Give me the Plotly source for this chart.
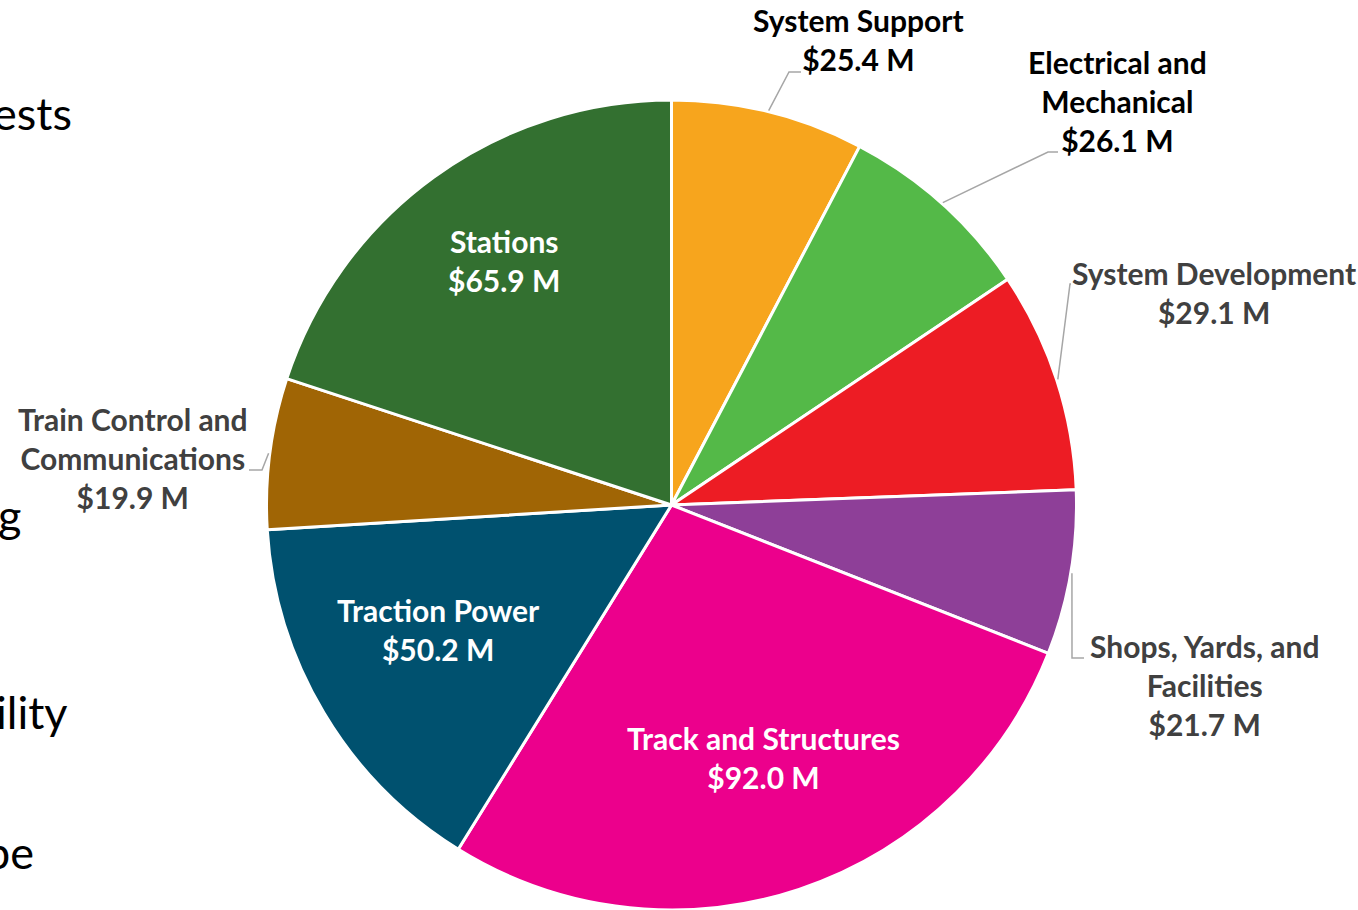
import math
import plotly.graph_objects as go

# ---- data ----
categories = ["System Support", "Electrical and Mechanical", "System Development",
              "Shops, Yards, and Facilities", "Track and Structures", "Traction Power",
              "Train Control and Communications", "Stations"]
values = [25.4, 26.1, 29.1, 21.7, 92.0, 50.2, 19.9, 65.9]
label_text = ["System Support<br>$25.4 M", "Electrical and<br>Mechanical<br>$26.1 M",
              "System Development<br>$29.1 M", "Shops, Yards, and<br>Facilities<br>$21.7 M",
              "Track and Structures<br>$92.0 M", "Traction Power<br>$50.2 M",
              "Train Control and<br>Communications<br>$19.9 M", "Stations<br>$65.9 M"]
colors = ["#F7A51D", "#54B948", "#ED1C24", "#8E3F98", "#EC008C", "#00516F", "#A06505", "#337030"]
slide_fragments = ["ests", "g", "ility", "pe"]

# ---- layout geometry (pixels) ----
W, H = 1358, 910
CX, CY, R = 671.5, 505.0, 405.0
FONT = "Lato"

def px(x, y):
    return x / W, 1 - y / H

fig = go.Figure(go.Pie(
    labels=categories, values=values, sort=False, direction="clockwise", rotation=0,
    marker=dict(colors=colors, line=dict(color="white", width=3)),
    textinfo="none", hoverinfo="label+value", showlegend=False,
    domain=dict(x=[(CX - R) / W, (CX + R) / W], y=[1 - (CY + R) / H, 1 - (CY - R) / H]),
))

total = sum(values)
cum = 0.0
mid_angles = []
for v in values:
    mid_angles.append((cum + v / 2) / total * 2 * math.pi)
    cum += v

def edge_point(i, rf=1.0):
    a = mid_angles[i]
    return CX + rf * R * math.sin(a), CY - rf * R * math.cos(a)

# label placement: (center x px, center y px, text color)
placement = {
    0: (858, 40, "#000000"),
    1: (1117, 101, "#000000"),
    2: (1214, 293, "#404040"),
    3: (1204, 685, "#404040"),
    4: (763, 757, "white"),
    5: (438, 629, "white"),
    6: (133, 458, "#404040"),
    7: (504, 260, "white"),
}
annotations = []
for i, (x, y, c) in placement.items():
    ax, ay = px(x, y)
    annotations.append(dict(x=ax, y=ay, xref="paper", yref="paper", text=label_text[i],
                            showarrow=False, xanchor="center", yanchor="middle", align="center",
                            font=dict(family=FONT, size=30, color=c, weight="bold")))

# leader lines: start on the pie rim at each slice's mid angle, then elbow to label
elbows = {
    0: [(789, 72), (801, 72)],
    1: [(1048, 152), (1058, 152)],
    2: [(1070, 284), (1071, 284)],
    3: [(1072, 658), (1084, 658)],
    6: [(262, 470), (249, 470)],
}
shapes = []
for i, pts in elbows.items():
    sx, sy = edge_point(i, 1.003)
    path_pts = [(sx, sy)] + pts
    d = "M " + " L ".join(f"{px(x, y)[0]:.5f},{px(x, y)[1]:.5f}" for x, y in path_pts)
    shapes.append(dict(type="path", xref="paper", yref="paper", path=d,
                       line=dict(color="#A6A6A6", width=1.5)))

# cropped slide text at left edge (cut off in the reference too)
frag_pos = [(74, 113), (23, 515), (70, 712), (36, 852)]
for t, (x, y) in zip(slide_fragments, frag_pos):
    ax, ay = px(x, y)
    annotations.append(dict(x=ax, y=ay, xref="paper", yref="paper", text=t, showarrow=False,
                            xanchor="right", yanchor="middle",
                            font=dict(family=FONT, size=45, color="#000000")))

fig.update_layout(width=W, height=H, margin=dict(l=0, r=0, t=0, b=0),
                  paper_bgcolor="white", plot_bgcolor="white",
                  annotations=annotations, shapes=shapes)

fig.write_html("out.html", config={"displayModeBar": False},
               post_script="document.body.style.margin='0';")
